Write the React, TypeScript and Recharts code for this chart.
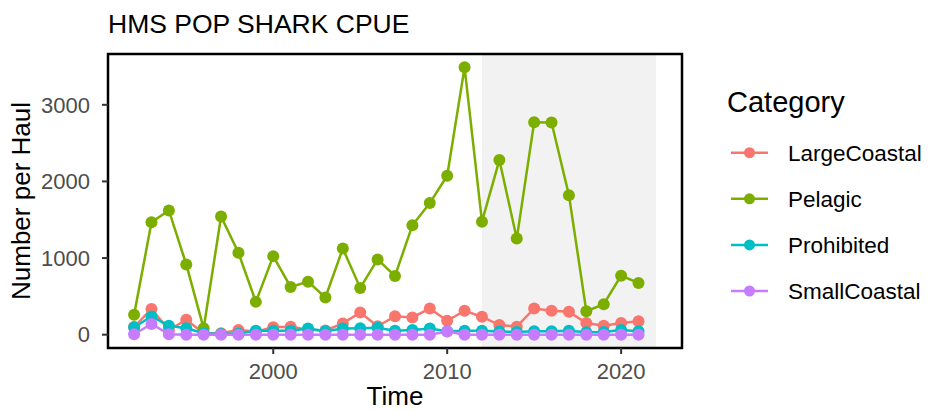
import { LineChart, Line, XAxis, YAxis, ReferenceArea } from 'recharts';

const years = [1992, 1993, 1994, 1995, 1996, 1997, 1998, 1999, 2000, 2001, 2002, 2003, 2004, 2005, 2006, 2007, 2008, 2009, 2010, 2011, 2012, 2013, 2014, 2015, 2016, 2017, 2018, 2019, 2020, 2021];
const largeCoastal = [100, 335, 60, 195, 20, 20, 62, 40, 96, 104, 65, 55, 147, 290, 110, 240, 225, 342, 182, 312, 234, 126, 104, 342, 312, 298, 152, 117, 152, 174];
const pelagic = [259, 1466, 1621, 917, 83, 1543, 1068, 428, 1025, 623, 692, 485, 1124, 610, 982, 766, 1427, 1717, 2075, 3489, 1475, 2279, 1254, 2772, 2768, 1821, 307, 398, 770, 674];
const prohibited = [96, 238, 117, 83, 20, 10, 15, 50, 50, 50, 80, 45, 80, 85, 90, 50, 60, 80, 45, 50, 50, 40, 35, 45, 45, 50, 30, 35, 60, 45];
const smallCoastal = [5, 140, 5, 0, 0, 0, 0, 0, 0, 0, 0, 0, 0, 0, 0, 0, 0, 0, 40, 0, 0, 0, 0, 0, 0, 0, 0, 0, 0, 0];

const categories = ['LargeCoastal', 'Pelagic', 'Prohibited', 'SmallCoastal'];
const colors = ['#F8766D', '#7CAE00', '#00BFC4', '#C77CFF'];
const xTicks = [2000, 2010, 2020];
const yTicks = [0, 1000, 2000, 3000];
const shade = [2012, 2022];

const xDomain = [1990.5, 2023.5];
const yDomain = [-174, 3663];

const values = [largeCoastal, pelagic, prohibited, smallCoastal];
const data = years.map((year, i) => {
  const row: Record<string, number> = { year };
  categories.forEach((c, k) => { row[c] = values[k][i]; });
  return row;
});

const font = '"Liberation Sans", Arial, Helvetica, sans-serif';
const tickStyle = { fontSize: 22, fill: '#4D4D4D', fontFamily: font };

export default function App() {
  return (
    <div style={{ position: 'absolute', left: 0, top: 0, width: 928, height: 411, overflow: 'hidden', background: '#fff', fontFamily: font }}>
      <LineChart width={928} height={411} data={data} margin={{ top: 54, right: 246, bottom: 0, left: 0 }}>
        <ReferenceArea x1={shade[0]} x2={shade[1]} fill="#F2F2F2" fillOpacity={1} stroke="none" ifOverflow="visible" />
        <XAxis
          dataKey="year"
          type="number"
          domain={xDomain}
          ticks={xTicks}
          allowDataOverflow
          height={63}
          axisLine={false}
          tickLine={{ stroke: '#333333', strokeWidth: 2 }}
          tickSize={6}
          tickMargin={9}
          tick={tickStyle}
        />
        <YAxis
          type="number"
          domain={yDomain}
          ticks={yTicks}
          allowDataOverflow
          width={108}
          axisLine={false}
          tickLine={{ stroke: '#333333', strokeWidth: 2 }}
          tickSize={6}
          tickMargin={12}
          tick={tickStyle}
        />
        {categories.map((c, k) => (
          <Line
            key={'pt-' + c}
            dataKey={c}
            stroke="none"
            dot={{ r: 6, fill: colors[k], stroke: 'none' }}
            activeDot={false}
            isAnimationActive={false}
          />
        ))}
        {categories.map((c, k) => (
          <Line
            key={'ln-' + c}
            dataKey={c}
            stroke={colors[k]}
            strokeWidth={2.5}
            dot={false}
            activeDot={false}
            isAnimationActive={false}
          />
        ))}
        <ReferenceArea
          x1={xDomain[0]}
          x2={xDomain[1]}
          y1={yDomain[0]}
          y2={yDomain[1]}
          fill="none"
          stroke="#000"
          strokeWidth={2.5}
          ifOverflow="visible"
        />
      </LineChart>
      <svg width={928} height={411} style={{ position: 'absolute', left: 0, top: 0, pointerEvents: 'none' }} fontFamily={font}>
        <text x={108} y={33} fontSize={26.5} fill="#000">HMS POP SHARK CPUE</text>
        <text x={395} y={405} fontSize={26} fill="#000" textAnchor="middle">Time</text>
        <text transform="translate(30,201) rotate(-90)" fontSize={26} fill="#000" textAnchor="middle">Number per Haul</text>
        <text x={727} y={112} fontSize={29} fill="#000">Category</text>
        {categories.map((c, k) => {
          const cy = 152.7 + k * 46.1;
          return (
            <g key={c}>
              <line x1={731} x2={768} y1={cy} y2={cy} stroke={colors[k]} strokeWidth={2.5} />
              <circle cx={749.5} cy={cy} r={5.5} fill={colors[k]} />
              <text x={788} y={cy + 8} fontSize={22.5} fill="#000">{c}</text>
            </g>
          );
        })}
      </svg>
    </div>
  );
}
